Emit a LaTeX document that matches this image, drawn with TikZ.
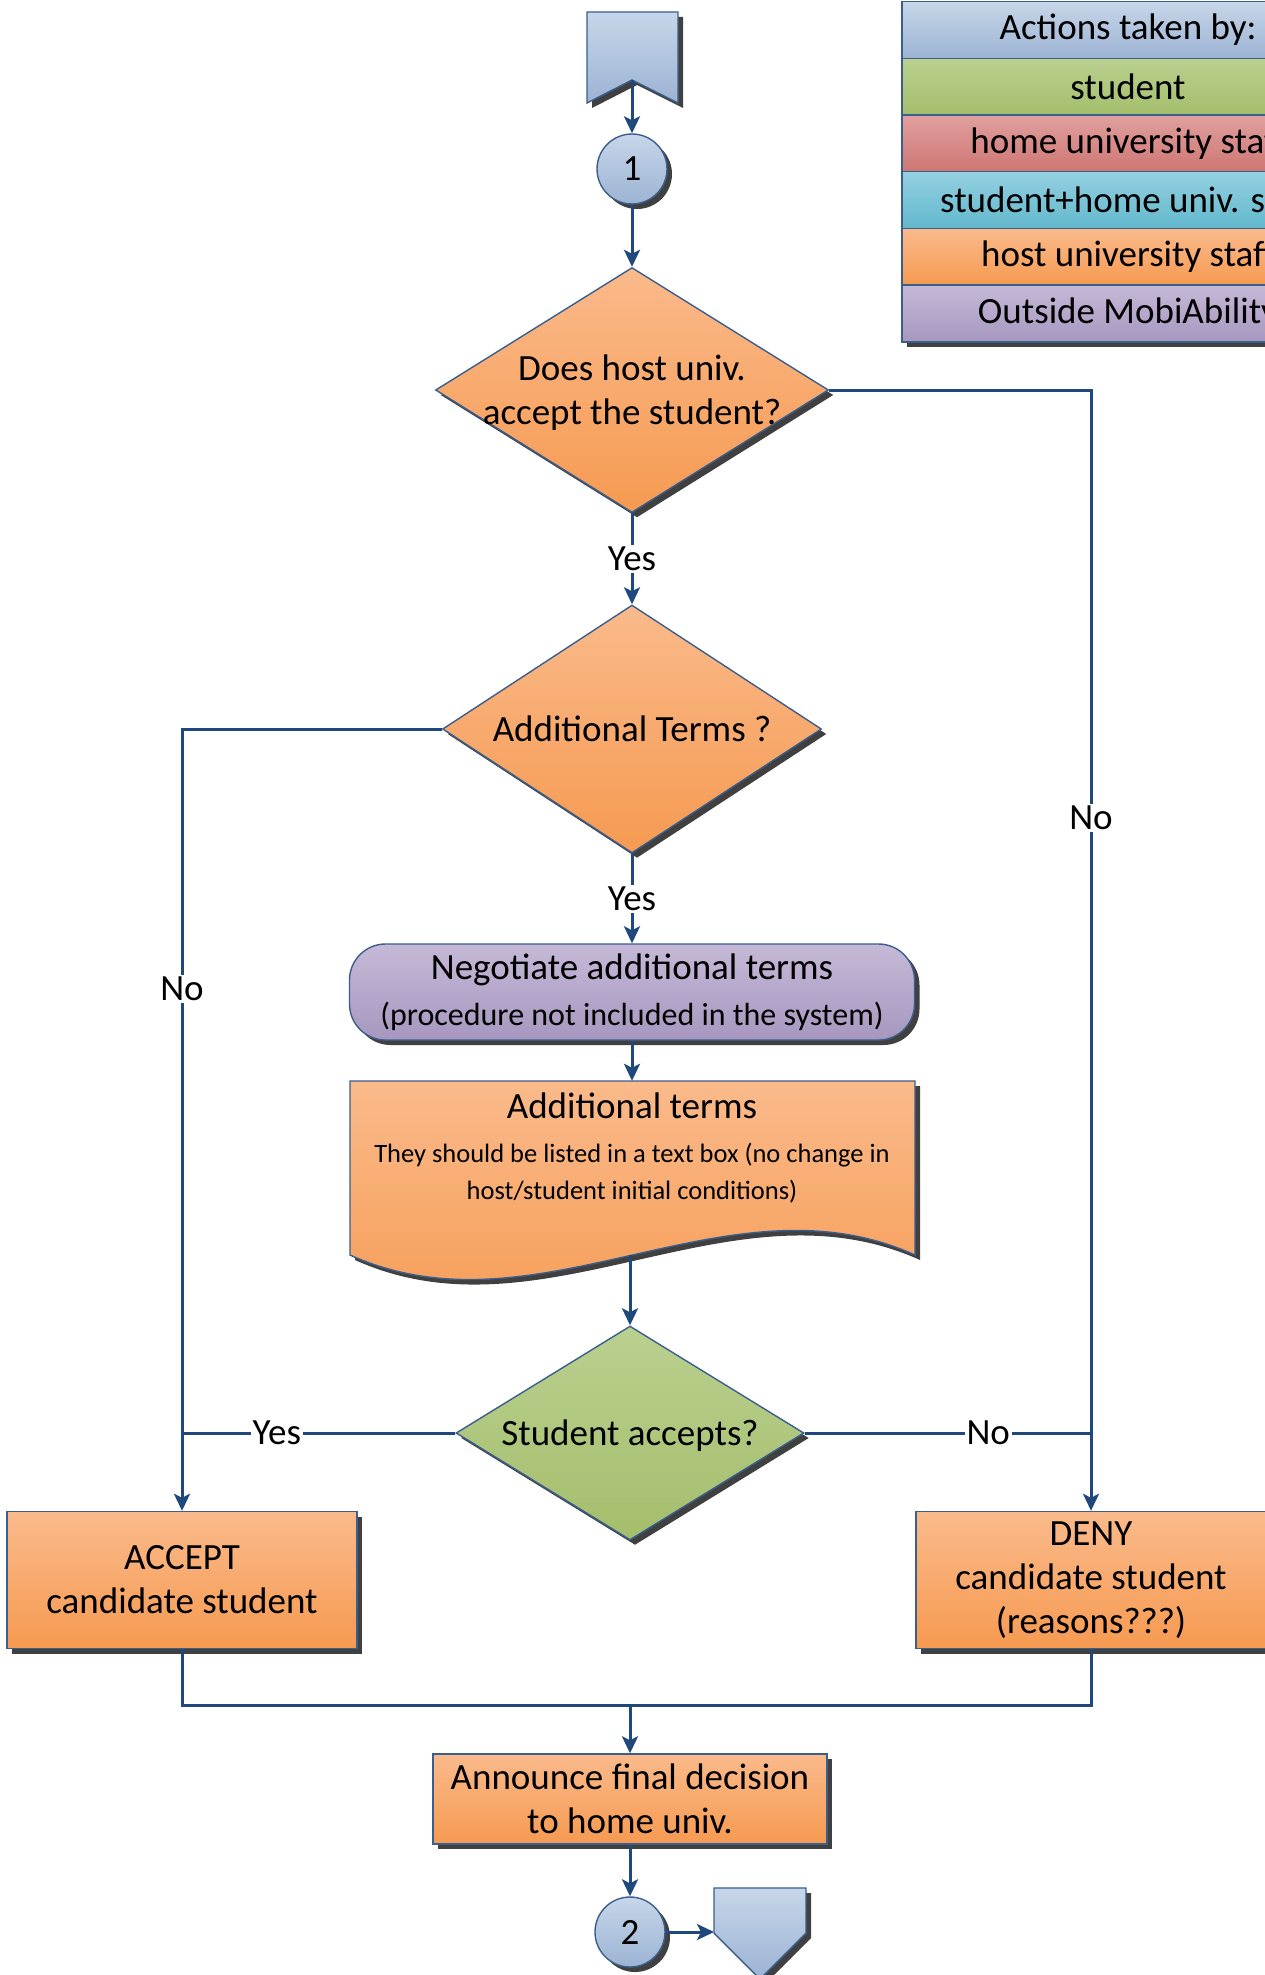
\documentclass[tikz,border=0pt]{standalone}
\usepackage{fontspec}
\setmainfont{Carlito}
\usetikzlibrary{shapes.geometric,shadows,arrows.meta,calc}
\definecolor{lnc}{HTML}{1F497D}
\definecolor{brd}{HTML}{3A5F8E}
\definecolor{shd}{HTML}{404040}
\definecolor{orT}{HTML}{FABA8B}
\definecolor{orB}{HTML}{F69A51}
\definecolor{grT}{HTML}{BAD090}
\definecolor{grB}{HTML}{A4BE6B}
\definecolor{puT}{HTML}{C5B9D7}
\definecolor{puB}{HTML}{A797BF}
\definecolor{blT}{HTML}{C7D6E9}
\definecolor{blB}{HTML}{9CB3D3}
\definecolor{reT}{HTML}{E0A09E}
\definecolor{reB}{HTML}{CD7673}
\definecolor{teT}{HTML}{93D0E0}
\definecolor{teB}{HTML}{62B8CD}
\begin{document}
\begin{tikzpicture}[x=1pt,y=-1pt,
  conn/.style={line width=3pt, draw=lnc},
  arr/.style={conn, -{Stealth[length=17pt,width=16pt,inset=4pt]}},
  shp/.style={draw=brd, line width=1.4pt, drop shadow={shadow xshift=5pt, shadow yshift=-5pt, fill=shd, opacity=1}},
  orng/.style={top color=orT, bottom color=orB},
  grn/.style={top color=grT, bottom color=grB},
  purp/.style={top color=puT, bottom color=puB},
  blu/.style={top color=blT, bottom color=blB},
  txt/.style={font=\fontsize{37}{44}\selectfont, align=center, text=black, inner sep=0pt},
  lbl/.style={txt, fill=white, inner sep=2pt},
  dia/.style={diamond, shp, inner sep=0pt},
  box/.style={rectangle, shp, txt},
  circ/.style={circle, shp, blu, txt, minimum size=70pt},
  legrow/.style={rectangle, draw=brd, line width=1.4pt, txt, minimum width=452pt, minimum height=56.7pt},
]
\useasboundingbox (0,0) rectangle (1265,1975);
\clip (0,0) rectangle (1265,1975);
\fill[white] (0,0) rectangle (1265,1975);

% legend
\fill[shd] (907,7) rectangle (1359,347);
\node[legrow, blu] (lg0) at (1128,30) {Actions taken by:};
\node[legrow, grn] (lg1) at (1128,86.7) {student};
\node[legrow, top color=reT, bottom color=reB] (lg2) at (1128,143.4) {home university staff};
\node[legrow, top color=teT, bottom color=teB] (lg3) at (1128,200.1) {student+home univ. staff};
\node[legrow, orng] (lg4) at (1128,256.8) {host university staff};
\node[legrow, purp] (lg5) at (1128,313.5) {Outside MobiAbility};

% top off-page connector
\path[shp, blu] (587,12) -- (678,12) -- (678,103) -- (632,80) -- (587,103) -- cycle;
\coordinate (opc1) at (632,80);

\node[circ] (c1) at (632,169) {1};
\draw[arr] (opc1) -- (c1);

\node[dia, orng, minimum width=393pt, minimum height=245pt] (d1) at (632,390) {};
\node[txt] (t1) at (632,392.5) {Does host univ.\\accept the student?};
\draw[arr] (c1) -- (d1);

\node[dia, orng, minimum width=379pt, minimum height=248pt] (d2) at (632,729) {};
\node[txt] (t2) at (d2) {Additional Terms ?};
\draw[arr] (d1) -- node[lbl]{Yes} (d2);

\node[box, purp, rounded corners=36pt, minimum width=565pt, minimum height=96pt] (neg) at (632,992)
  {Negotiate additional terms\\[2pt]\fontsize{32}{40}\selectfont (procedure not included in the system)};
\draw[arr] (d2) -- node[lbl]{Yes} (neg);

% document shape
\path[shp, orng] (350,1081) -- (915,1081) -- (915,1255) .. controls (727,1170) and (538,1340) .. (350,1255) -- cycle;
\node[minimum width=565pt, minimum height=174pt, inner sep=0pt] (doc) at (632,1168) {};
\node[txt] (doct) at (632,1148) {Additional terms\\\fontsize{26.5}{37}\selectfont They should be listed in a text box (no change in\\[-7pt]\fontsize{26.5}{37}\selectfont host/student initial conditions)};
\draw[arr] (neg) -- (doc);

\node[dia, grn, minimum width=348pt, minimum height=214pt] (d3) at (630,1433) {};
\node[txt] (t3) at (630,1435.5) {Student accepts?};
\draw[arr] (d3.north |- doc.south) -- (d3);

\node[box, orng, minimum width=350pt, minimum height=137pt] (acc) at (182,1580) {ACCEPT\\candidate student};
\node[box, orng, minimum width=350pt, minimum height=137pt] (den) at (1091,1580) {DENY\\candidate student\\(reasons???)};

\draw[arr] (d2.west) -| node[lbl, pos=0.666]{No} (acc.north);
\draw[arr] (d1.east) -| node[lbl, pos=0.691]{No} (den.north);
\draw[conn] (d3.west) -- node[lbl, pos=0.653]{Yes} (d3.west -| acc.north);
\draw[conn] (d3.east) -- node[lbl, pos=0.641]{No} (d3.east -| den.north);

\node[box, orng, minimum width=394pt, minimum height=90pt] (ann) at (630,1799) {Announce final decision\\to home univ.};
\coordinate (mrg) at (630,1705);
\draw[conn] (acc.south) |- (mrg) -| (den.south);
\draw[arr] (mrg) -- (ann);

\node[circ] (c2) at (630,1932) {2};
\draw[arr] (ann) -- (c2);

% bottom off-page connector
\path[shp, blu] (714,1888) -- (806,1888) -- (806,1933) -- (760,1979) -- (714,1933) -- cycle;
\coordinate (opc2) at (714,1932);
\draw[arr] (c2) -- (opc2);
\end{tikzpicture}
\end{document}
